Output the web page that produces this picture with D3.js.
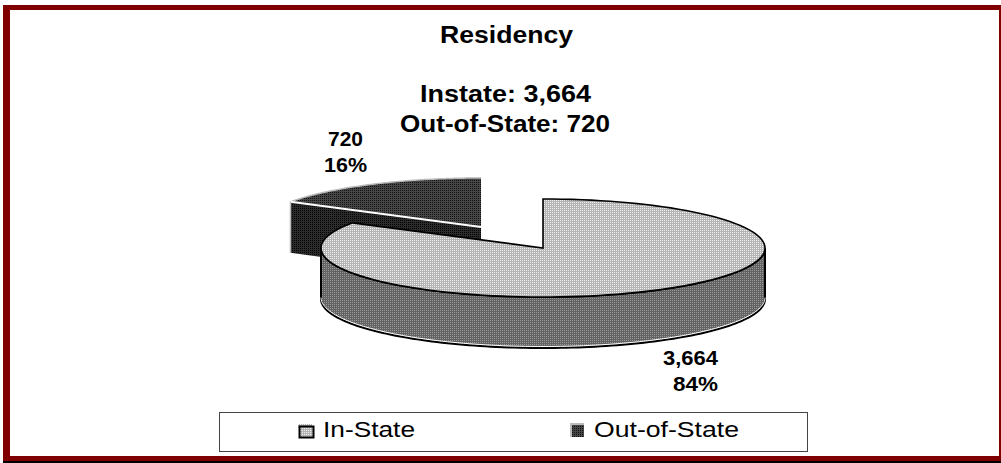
<!DOCTYPE html>
<html><head><meta charset="utf-8">
<script src="https://cdn.jsdelivr.net/npm/d3@7/dist/d3.min.js"></script>
<style>html,body{margin:0;padding:0;background:#fff}svg{display:block}text{font-family:"Liberation Sans",Arial,sans-serif;fill:#000}</style>
</head><body><div id="c"></div>
<script>
const categories=["In-State","Out-of-State"];
const values=[3664,720];
const percents=["84%","16%"];
const valueLabels=["3,664","720"];
const titleLines=["Residency","Instate: 3,664","Out-of-State: 720"];

const W=1001,H=463,rx=222,ry=49,depth=51;
const svg=d3.select("#c").append("svg").attr("width",W).attr("height",H).attr("shape-rendering","auto");
const defs=svg.append("defs");
function dither(id,a,b){
  const p=defs.append("pattern").attr("id",id).attr("width",2).attr("height",2).attr("patternUnits","userSpaceOnUse");
  p.append("rect").attr("width",2).attr("height",2).attr("fill",a);
  p.append("rect").attr("width",1).attr("height",1).attr("fill",b);
}
dither("pTop","#b4b4b4","#f0f0f0");
dither("pSide","#626262","#9a9a9a");
dither("pDarkTop","#474747","#111111");
dither("pDarkWall","#2c2c2c","#000000");

// frame
svg.append("rect").attr("x",3).attr("y",5).attr("width",998).attr("height",457).attr("fill","#800000");
svg.append("rect").attr("x",3).attr("y",461).attr("width",W-3).attr("height",2).attr("fill","#000");
svg.append("rect").attr("x",10).attr("y",10).attr("width",989).attr("height",446).attr("fill","#fff");

const pie=d3.pie().sort(null)(values);
const pt=(c,a,dy=0)=>[c[0]+rx*Math.sin(a),c[1]-ry*Math.cos(a)+dy];
const arcPts=(c,a0,a1,dy=0)=>d3.range(0,121).map(i=>pt(c,a0+(a1-a0)*i/120,dy));
const line=d3.line();

const cIn=[543,248],cOut=[481,227];
const inS=pie[0],outS=pie[1];

// exploded slice: walls then top
const g=svg.append("g");
const leftOut=pt(cOut,outS.startAngle);
g.append("path").attr("d",line([leftOut,cOut,[cOut[0],cOut[1]+depth],[leftOut[0],leftOut[1]+depth]])+"Z")
  .attr("fill","url(#pDarkWall)");
g.append("path").attr("d",line([cOut,...arcPts(cOut,outS.startAngle,outS.endAngle)])+"Z").attr("fill","url(#pDarkTop)");
g.append("path").attr("d",line(arcPts(cOut,outS.startAngle,outS.endAngle))).attr("fill","none").attr("stroke","#bbb").attr("stroke-width",1.5);
g.append("path").attr("d",line([leftOut,cOut])).attr("fill","none").attr("stroke","#fff").attr("stroke-width",2);
g.append("path").attr("d",line([leftOut,[leftOut[0],leftOut[1]+depth]])).attr("fill","none").attr("stroke","#bbb").attr("stroke-width",1.5);

// in-state slice wall
const a0=Math.PI/2,a1=3*Math.PI/2;
const front=arcPts(cIn,a0,a1);
const frontLow=arcPts(cIn,a1,a0,depth);
g.append("path").attr("d",line([...front,...frontLow])+"Z").attr("fill","url(#pSide)").attr("stroke","#000").attr("stroke-width",2);
g.append("path").attr("d",line(arcPts(cIn,a0,a1,depth-1.5))).attr("fill","none").attr("stroke","#fff").attr("stroke-width",1);
// in-state top
g.append("path").attr("d",line([cIn,...arcPts(cIn,inS.startAngle,inS.endAngle)])+"Z")
  .attr("fill","url(#pTop)").attr("stroke","#000").attr("stroke-width",1.6).attr("stroke-linejoin","miter");

// text, fitted to the stretched widths of the reference
const label=(s,x,y,len,size,weight)=>svg.append("text").attr("x",x).attr("y",y).attr("font-weight",weight).attr("font-size",size)
  .attr("textLength",len).attr("lengthAdjust","spacingAndGlyphs").text(s);
label(titleLines[0],440,43,133,23,"bold");
label(titleLines[1],420,102,171,23,"bold");
label(titleLines[2],400,132,210,23,"bold");
label(valueLabels[1],328,146,35,20,"bold");
label(percents[1],324,172,43,20,"bold");
label(valueLabels[0],663,365,55,20,"bold");
label(percents[0],673,391,45,20,"bold");

// legend
svg.append("rect").attr("x",219.5).attr("y",412.5).attr("width",588).attr("height",39).attr("fill","#fff").attr("stroke","#444");
svg.append("rect").attr("x",298).attr("y",424).attr("width",14).attr("height",4).attr("fill","url(#pTop)");
svg.append("rect").attr("x",299.5).attr("y",426.5).attr("width",14).attr("height",11).attr("fill","url(#pTop)").attr("stroke","#000").attr("stroke-width",2);
svg.append("rect").attr("x",570).attr("y",423).attr("width",14).attr("height",14).attr("fill","#bbb");
svg.append("rect").attr("x",572).attr("y",425).attr("width",12).attr("height",12).attr("fill","url(#pDarkTop)");
const lx=d3.scaleOrdinal().domain(categories).range([323,594]);
const lw=d3.scaleOrdinal().domain(categories).range([92,145]);
categories.forEach(c=>label(c,lx(c),437,lw(c),22,"normal"));
</script></body></html>
